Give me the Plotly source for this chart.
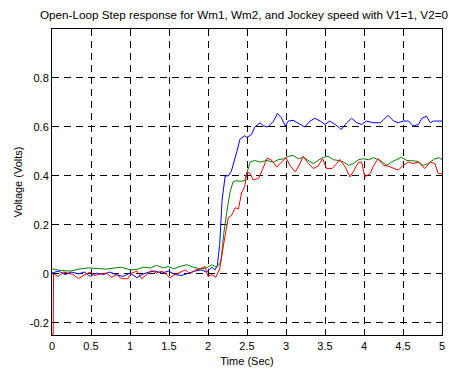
import plotly.graph_objects as go

# ---- data ----
t_blue = [0, 0.08, 0.17, 0.25, 0.34, 0.42, 0.49, 0.57, 0.66, 0.74, 0.83, 0.91, 1.0, 1.09, 1.15,
          1.24, 1.32, 1.41, 1.49, 1.58, 1.66, 1.75, 1.83, 1.92, 1.98, 2.05, 2.09, 2.12, 2.15, 2.18,
          2.22, 2.26, 2.30, 2.37, 2.41, 2.47, 2.5, 2.56, 2.6, 2.67, 2.71, 2.77, 2.84, 2.89, 2.94,
          2.99, 3.03, 3.09, 3.14, 3.18, 3.24, 3.31, 3.37, 3.44, 3.5, 3.56, 3.63, 3.71, 3.78, 3.84,
          3.91, 3.97, 4.03, 4.12, 4.21, 4.25, 4.31, 4.38, 4.44, 4.5, 4.57, 4.63, 4.7, 4.74, 4.8,
          4.85, 4.89, 4.95, 5.0]
v_blue = [0.003, 0.011, -0.003, 0.007, 0.0, 0.007, -0.011, 0.003, -0.003, 0.007, -0.004, -0.011,
          0.003, -0.016, -0.003, 0.007, 0.011, 0.003, 0.011, -0.003, -0.007, 0.003, 0.011, 0.016,
          0.007, 0.027, 0.016, 0.034, 0.12, 0.30, 0.40, 0.40, 0.42, 0.50, 0.55, 0.564, 0.557, 0.57,
          0.60, 0.617, 0.604, 0.60, 0.624, 0.655, 0.638, 0.604, 0.624, 0.627, 0.617, 0.61, 0.60,
          0.624, 0.635, 0.624, 0.61, 0.624, 0.61, 0.59, 0.617, 0.635, 0.617, 0.61, 0.624, 0.617,
          0.617, 0.63, 0.647, 0.624, 0.617, 0.624, 0.624, 0.604, 0.61, 0.635, 0.644, 0.617, 0.624,
          0.624, 0.624]

t_green = [0, 0.1, 0.23, 0.36, 0.47, 0.59, 0.7, 0.81, 0.89, 1.0, 1.09, 1.17, 1.26, 1.34, 1.43,
           1.49, 1.56, 1.64, 1.73, 1.81, 1.9, 1.98, 2.05, 2.11, 2.15, 2.17, 2.2, 2.24, 2.28, 2.32,
           2.35, 2.41, 2.47, 2.54, 2.6, 2.67, 2.75, 2.84, 2.9, 2.97, 3.03, 3.09, 3.16, 3.22, 3.29,
           3.35, 3.41, 3.48, 3.54, 3.61, 3.67, 3.74, 3.8, 3.86, 3.93, 3.99, 4.06, 4.12, 4.21, 4.29,
           4.35, 4.42, 4.48, 4.55, 4.62, 4.68, 4.76, 4.82, 4.91, 4.97, 5.0]
v_green = [0.02, 0.014, 0.011, 0.02, 0.024, 0.02, 0.019, 0.024, 0.027, 0.016, 0.018, 0.027, 0.024,
           0.034, 0.024, 0.03, 0.02, 0.03, 0.037, 0.027, 0.02, 0.024, 0.037, 0.027, 0.04, 0.06,
           0.16, 0.25, 0.33, 0.375, 0.38, 0.378, 0.38, 0.456, 0.463, 0.456, 0.463, 0.456, 0.466,
           0.47, 0.48, 0.483, 0.47, 0.476, 0.463, 0.45, 0.463, 0.476, 0.48, 0.466, 0.463, 0.456,
           0.443, 0.45, 0.466, 0.47, 0.466, 0.474, 0.463, 0.443, 0.456, 0.466, 0.476, 0.463, 0.463,
           0.46, 0.443, 0.45, 0.47, 0.474, 0.466]

t_red = [0, 0.02, 0.08, 0.15, 0.21, 0.27, 0.34, 0.4, 0.49, 0.55, 0.62, 0.7, 0.76, 0.83, 0.89,
         0.97, 1.02, 1.09, 1.15, 1.21, 1.28, 1.34, 1.41, 1.47, 1.51, 1.58, 1.64, 1.71, 1.77, 1.83,
         1.9, 1.96, 2.0, 2.05, 2.1, 2.15, 2.2, 2.26, 2.3, 2.35, 2.39, 2.43, 2.47, 2.5, 2.54, 2.58,
         2.65, 2.71, 2.76, 2.82, 2.88, 2.94, 3.0, 3.05, 3.12, 3.18, 3.22, 3.29, 3.35, 3.41, 3.47,
         3.52, 3.59, 3.65, 3.69, 3.76, 3.82, 3.86, 3.93, 3.97, 4.01, 4.08, 4.12, 4.18, 4.25, 4.31,
         4.38, 4.44, 4.5, 4.57, 4.63, 4.7, 4.78, 4.85, 4.91, 4.95, 5.0]
v_red = [-1.0, 0.0, -0.011, 0.007, 0.003, -0.003, -0.02, -0.007, 0.007, -0.007, 0.0, 0.003, -0.014,
         -0.003, -0.02, -0.02, 0.003, 0.011, -0.02, -0.003, 0.014, 0.003, 0.011, -0.003, -0.016,
         -0.003, 0.007, 0.016, 0.0, 0.014, 0.02, 0.03, -0.011, -0.003, -0.014, 0.02, 0.12, 0.23,
         0.238, 0.27, 0.265, 0.33, 0.356, 0.416, 0.41, 0.383, 0.39, 0.436, 0.473, 0.463, 0.436,
         0.456, 0.474, 0.443, 0.416, 0.45, 0.48, 0.45, 0.43, 0.44, 0.47, 0.43, 0.43, 0.45, 0.467,
         0.436, 0.396, 0.416, 0.456, 0.456, 0.396, 0.41, 0.44, 0.47, 0.443, 0.44, 0.43, 0.423,
         0.443, 0.456, 0.45, 0.456, 0.43, 0.456, 0.45, 0.41, 0.41]

x_ticks = [0, 0.5, 1, 1.5, 2, 2.5, 3, 3.5, 4, 4.5, 5]
y_ticks = [-0.2, 0, 0.2, 0.4, 0.6, 0.8]
y_tick_text = ["-0.2", "0", "0.2", "0.4", "0.6", "0.8"]

FONT = "Liberation Sans, Arial, sans-serif"

fig = go.Figure()
for t, v, c in [(t_blue, v_blue, "#0000ff"), (t_green, v_green, "#008000"), (t_red, v_red, "#ff0000")]:
    fig.add_trace(go.Scatter(x=t, y=v, mode="lines", line=dict(color=c, width=1), showlegend=False,
                             cliponaxis=True))

axis_common = dict(showline=True, linecolor="black", linewidth=1, mirror="ticks",
                   ticks="inside", ticklen=5, tickcolor="black", tickwidth=1,
                   showgrid=True, gridcolor="black", gridwidth=1, griddash="7px,5px",
                   zeroline=False, automargin=False,
                   tickfont=dict(family=FONT, size=11, color="black"))

fig.update_layout(
    width=449, height=369,
    margin=dict(l=52, r=7, t=29, b=34, autoexpand=False),
    paper_bgcolor="white", plot_bgcolor="white",
    font=dict(family=FONT, size=11, color="black"),
    title=dict(text="Open-Loop Step response for Wm1, Wm2, and Jockey speed with V1=1, V2=0",
               x=40 / 449, xref="container", xanchor="left", y=0.96, yref="container",
               yanchor="middle", font=dict(family=FONT, size=11.7, color="black")),
    xaxis=dict(range=[0, 5], tickvals=x_ticks, ticklabelstandoff=1,
               title=dict(text="Time (Sec)", standoff=6, font=dict(family=FONT, size=11)),
               **axis_common),
    yaxis=dict(range=[-0.25, 1.0], tickvals=y_ticks, ticktext=y_tick_text,
               title=dict(text="Voltage (Volts)", standoff=4, font=dict(family=FONT, size=11)),
               **axis_common),
)

fig.write_html("out.html")
